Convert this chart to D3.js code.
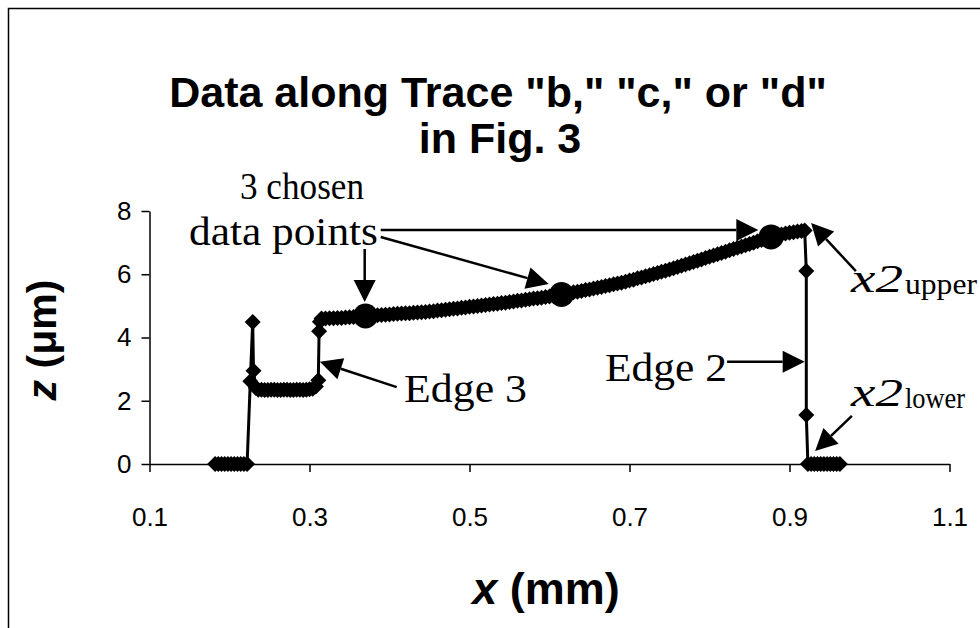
<!DOCTYPE html>
<html>
<head>
<meta charset="utf-8">
<title>Data along Trace</title>
<style>
  body { margin: 0; padding: 0; background: #fff; }
  svg { display: block; }
</style>
</head>
<body>
<div id="chart"></div>
<script src="https://d3js.org/d3.v7.min.js"></script>
<script>
// trace readings, x in mm, z in um
var traceX = [
  0.182, 0.186, 0.190, 0.194, 0.198, 0.202, 0.206, 0.210, 0.214, 0.218, 0.222,
  0.226, 0.229, 0.230, 0.233,
  0.236, 0.240, 0.244, 0.248, 0.252, 0.256, 0.260, 0.264, 0.268, 0.272, 0.276,
  0.280, 0.284, 0.288, 0.292, 0.296, 0.300, 0.304, 0.308, 0.311,
  0.312, 0.313,
  0.315, 0.320, 0.325, 0.330, 0.335, 0.340, 0.345, 0.350, 0.355, 0.360,
  0.365, 0.370, 0.375, 0.380, 0.385, 0.390, 0.395, 0.400, 0.405, 0.410,
  0.415, 0.420, 0.425, 0.430, 0.435, 0.440, 0.445, 0.450, 0.455, 0.460,
  0.465, 0.470, 0.475, 0.480, 0.485, 0.490, 0.495, 0.500, 0.505, 0.510,
  0.515, 0.520, 0.525, 0.530, 0.535, 0.540, 0.545, 0.550, 0.555, 0.560,
  0.565, 0.570, 0.575, 0.580, 0.585, 0.590, 0.595, 0.600, 0.605, 0.610,
  0.615, 0.620, 0.625, 0.630, 0.635, 0.640, 0.645, 0.650, 0.655, 0.660,
  0.665, 0.670, 0.675, 0.680, 0.685, 0.690, 0.695, 0.700, 0.705, 0.710,
  0.715, 0.720, 0.725, 0.730, 0.735, 0.740, 0.745, 0.750, 0.755, 0.760,
  0.765, 0.770, 0.775, 0.780, 0.785, 0.790, 0.795, 0.800, 0.805, 0.810,
  0.815, 0.820, 0.825, 0.830, 0.835, 0.840, 0.845, 0.850, 0.855, 0.860,
  0.865, 0.870, 0.875, 0.880, 0.885, 0.890, 0.895, 0.900, 0.905, 0.910,
  0.915, 0.919,
  0.921, 0.921, 0.923,
  0.927, 0.931, 0.935, 0.939, 0.943, 0.947, 0.951, 0.955, 0.959, 0.963
];
var traceZ = [
  0, 0, 0, 0, 0, 0, 0, 0, 0, 0, 0,
  2.62, 4.49, 2.95, 2.40,
  2.35, 2.35, 2.34, 2.34, 2.35, 2.35, 2.34, 2.34, 2.35, 2.35, 2.34,
  2.34, 2.35, 2.35, 2.34, 2.35, 2.36, 2.38, 2.45, 2.65,
  4.20, 4.50,
  4.60, 4.60, 4.61, 4.61, 4.62, 4.62, 4.63, 4.64, 4.65, 4.66,
  4.67, 4.68, 4.69, 4.70, 4.70, 4.71, 4.72, 4.73, 4.74, 4.75,
  4.76, 4.77, 4.77, 4.78, 4.79, 4.80, 4.81, 4.82, 4.83, 4.85,
  4.86, 4.88, 4.89, 4.91, 4.92, 4.94, 4.95, 4.97, 4.98, 5.00,
  5.01, 5.03, 5.04, 5.06, 5.07, 5.09, 5.10, 5.12, 5.14, 5.16,
  5.17, 5.19, 5.21, 5.23, 5.24, 5.26, 5.28, 5.30, 5.32, 5.34,
  5.36, 5.39, 5.41, 5.43, 5.45, 5.47, 5.50, 5.52, 5.55, 5.57,
  5.60, 5.63, 5.65, 5.68, 5.71, 5.73, 5.76, 5.80, 5.83, 5.87,
  5.90, 5.94, 5.97, 6.01, 6.04, 6.08, 6.11, 6.15, 6.19, 6.23,
  6.27, 6.31, 6.35, 6.39, 6.43, 6.47, 6.51, 6.55, 6.59, 6.63,
  6.67, 6.71, 6.76, 6.80, 6.84, 6.88, 6.92, 6.96, 7.00, 7.04,
  7.08, 7.12, 7.16, 7.20, 7.23, 7.26, 7.29, 7.31, 7.33, 7.35,
  7.37, 7.38,
  6.10, 1.55, 0,
  0, 0, 0, 0, 0, 0, 0, 0, 0, 0
];

// the 3 chosen data points
var chosenX = [0.370, 0.615, 0.877];
var chosenZ = [4.68, 5.36, 7.18];

var xTicks = [0.1, 0.3, 0.5, 0.7, 0.9, 1.1];
var yTicks = [0, 2, 4, 6, 8];

// annotation arrows [x1, z1, x2, z2] in data units, tip at the second point
var arrows = [
  [0.389, 7.40, 0.861, 7.40],
  [0.389, 7.18, 0.599, 5.69],
  [0.369, 6.80, 0.369, 5.12],
  [0.409, 2.43, 0.313, 3.23],
  [0.822, 3.23, 0.919, 3.23],
  [0.983, 6.10, 0.927, 7.62],
  [0.978, 1.52, 0.932, 0.41]
];

var width = 980, height = 628;

var svg = d3.select("#chart").append("svg")
    .attr("width", width)
    .attr("height", height);

// outer chart frame, cut off at right/bottom like the scan
svg.append("rect")
    .attr("x", 8.5).attr("y", 8.5)
    .attr("width", 1200).attr("height", 1200)
    .attr("fill", "none")
    .attr("stroke", "#000")
    .attr("stroke-width", 1.5);

var x = d3.scaleLinear().domain([0.1, 1.1]).range([149.5, 949.5]);
var y = d3.scaleLinear().domain([0, 8]).range([464, 211]);

var sans = "'Liberation Sans', Arial, sans-serif";
var serif = "'Liberation Serif', 'Times New Roman', serif";

// title
svg.append("text")
    .attr("x", 498).attr("y", 107)
    .attr("text-anchor", "middle")
    .style("font-family", sans).style("font-weight", "bold").style("font-size", "43px")
    .text('Data along Trace "b," "c," or "d"');
svg.append("text")
    .attr("x", 500).attr("y", 153)
    .attr("text-anchor", "middle")
    .style("font-family", sans).style("font-weight", "bold").style("font-size", "43px")
    .text("in Fig. 3");

// axes
var xAxis = svg.append("g")
    .attr("transform", "translate(0," + y(0) + ")")
    .call(d3.axisBottom(x).tickValues(xTicks).tickSize(8).tickSizeOuter(0).tickPadding(36)
      .tickFormat(d3.format(".1f")));
var yAxis = svg.append("g")
    .attr("transform", "translate(" + x(0.1) + ",0)")
    .call(d3.axisLeft(y).tickValues(yTicks).tickSize(8).tickSizeOuter(0).tickPadding(10));

[xAxis, yAxis].forEach(function(g) {
  g.select(".domain").attr("stroke-width", 1.5);
  g.selectAll(".tick line").attr("stroke-width", 1.5);
  g.selectAll("text")
    .style("font-family", sans).style("font-size", "26px").attr("fill", "#000");
});

// axis titles
var xt = svg.append("text")
    .attr("x", 546).attr("y", 604)
    .attr("text-anchor", "middle")
    .style("font-family", sans).style("font-weight", "bold").style("font-size", "45px");
xt.append("tspan").style("font-style", "italic").text("x");
xt.append("tspan").text(" (mm)");

var yt = svg.append("text")
    .attr("transform", "translate(56,340) rotate(-90)")
    .attr("text-anchor", "middle")
    .style("font-family", sans).style("font-weight", "bold").style("font-size", "41px");
yt.append("tspan").style("font-style", "italic").text("z");
yt.append("tspan").text(" (\u03bcm)");

// trace
var pts = traceX.map(function(v, i) { return [v, traceZ[i]]; });

svg.append("path")
    .datum(pts)
    .attr("fill", "none")
    .attr("stroke", "#000")
    .attr("stroke-width", 3)
    .attr("d", d3.line().x(function(d) { return x(d[0]); }).y(function(d) { return y(d[1]); }));

var h = 8;
svg.append("g").selectAll("path")
    .data(pts)
    .enter().append("path")
    .attr("transform", function(d) { return "translate(" + x(d[0]) + "," + y(d[1]) + ")"; })
    .attr("d", "M0," + (-h) + "L" + h + ",0L0," + h + "L" + (-h) + ",0Z")
    .attr("fill", "#000");

svg.append("g").selectAll("circle")
    .data(chosenX)
    .enter().append("circle")
    .attr("cx", function(d) { return x(d); })
    .attr("cy", function(d, i) { return y(chosenZ[i]); })
    .attr("r", 12.5)
    .attr("fill", "#000");

// arrows
var headLen = 22, headHalf = 11;
arrows.forEach(function(a) {
  var x1 = x(a[0]), y1 = y(a[1]), x2 = x(a[2]), y2 = y(a[3]);
  var dx = x2 - x1, dy = y2 - y1, len = Math.sqrt(dx * dx + dy * dy);
  var ux = dx / len, uy = dy / len;
  var bx = x2 - ux * headLen, by = y2 - uy * headLen;
  svg.append("line")
    .attr("x1", x1).attr("y1", y1).attr("x2", bx).attr("y2", by)
    .attr("stroke", "#000").attr("stroke-width", 2.5);
  svg.append("path")
    .attr("d", "M" + x2 + "," + y2 +
      "L" + (bx - uy * headHalf) + "," + (by + ux * headHalf) +
      "L" + (bx + uy * headHalf) + "," + (by - ux * headHalf) + "Z")
    .attr("fill", "#000");
});

// annotation labels, widths fitted to the scan
function label(txt, lx, ly, size, w, italic) {
  return svg.append("text")
    .attr("x", lx).attr("y", ly)
    .attr("textLength", w).attr("lengthAdjust", "spacingAndGlyphs")
    .style("font-family", serif).style("font-size", size + "px")
    .style("font-style", italic ? "italic" : "normal")
    .text(txt);
}
label("3 chosen", 240, 199, 38, 124);
label("data points", 189, 245, 40, 189);
label("Edge 3", 404, 402, 39, 123);
label("Edge 2", 605, 381, 39, 122);

label("x2", 851, 292, 41, 52, true);
label("upper", 905, 294, 30, 72);
label("x2", 851, 406, 41, 52, true);
label("lower", 905, 408, 30, 60);
</script>
</body>
</html>
